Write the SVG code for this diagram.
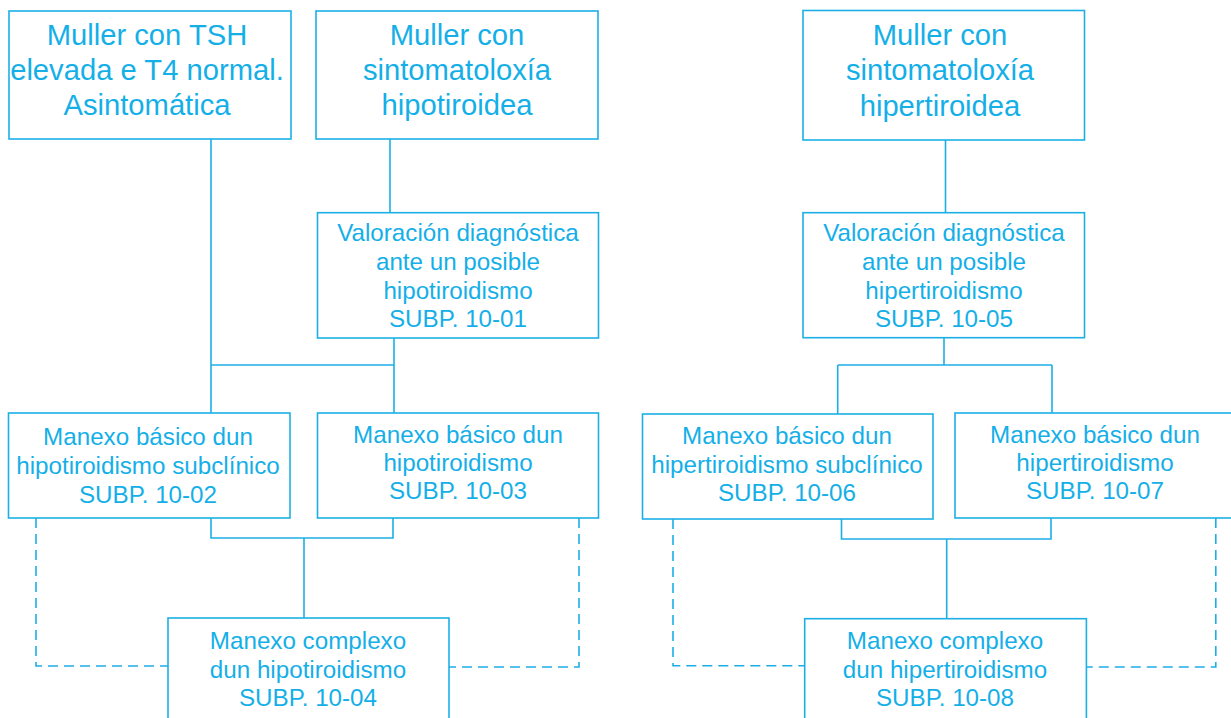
<svg xmlns="http://www.w3.org/2000/svg" width="1231" height="718" viewBox="0 0 1231 718">
<style>
.box{fill:#fff;stroke:#1cafe6;stroke-width:1.6}
.ln{fill:none;stroke:#1cafe6;stroke-width:1.6}
.dash{fill:none;stroke:#1cafe6;stroke-width:1.6;stroke-dasharray:10 6}
text{font-family:"Liberation Sans",Arial,sans-serif;fill:#15afe8;text-anchor:middle}
.big{font-size:29.2px}
.sm{font-size:24.2px}
</style>
<rect width="1231" height="718" fill="#fff"/>
<g id="connectors">
<path class="ln" d="M211 139V413M390 139V212.7M394 338V365M211 365H394M394 365V413"/>
<path class="ln" d="M211 518V538H393V518M304 538V618"/>
<path class="dash" d="M36 518V666H168M579 518V667H449"/>
<path class="ln" d="M945.5 140V212.7M944 338V365M837.7 365H1052M837.7 365V414M1052 365V413"/>
<path class="ln" d="M841.5 519V539H1051V518M946.7 539V618.7"/>
<path class="dash" d="M673 519V665.7H804.7M1215.8 518V667H1086.4"/>
</g>
<g id="n1"><rect class="box" x="9" y="11" width="282" height="128"/>
<text class="big" x="147" y="45">Muller con TSH</text><text class="big" x="147" y="80">elevada e T4 normal.</text><text class="big" x="147" y="115">Asintomática</text></g>
<g id="n2"><rect class="box" x="316" y="11" width="282" height="128"/>
<text class="big" x="457" y="45">Muller con</text><text class="big" x="457" y="80">sintomatoloxía</text><text class="big" x="457" y="115">hipotiroidea</text></g>
<g id="n3"><rect class="box" x="803" y="10.5" width="281.5" height="129.5"/>
<text class="big" x="940" y="45">Muller con</text><text class="big" x="940" y="80">sintomatoloxía</text><text class="big" x="940" y="116">hipertiroidea</text></g>
<g id="n4"><rect class="box" x="317.5" y="212.7" width="281" height="125.3"/>
<text class="sm" x="458" y="241">Valoración diagnóstica</text><text class="sm" x="458" y="270">ante un posible</text><text class="sm" x="458" y="299">hipotiroidismo</text><text class="sm" x="458" y="327">SUBP. 10-01</text></g>
<g id="n5"><rect class="box" x="803" y="212.7" width="281.5" height="125"/>
<text class="sm" x="944" y="241">Valoración diagnóstica</text><text class="sm" x="944" y="270">ante un posible</text><text class="sm" x="944" y="299">hipertiroidismo</text><text class="sm" x="944" y="327">SUBP. 10-05</text></g>
<g id="n6"><rect class="box" x="8.5" y="413" width="281.5" height="105"/>
<text class="sm" x="148" y="445">Manexo básico dun</text><text class="sm" x="148" y="474">hipotiroidismo subclínico</text><text class="sm" x="148" y="503">SUBP. 10-02</text></g>
<g id="n7"><rect class="box" x="317.5" y="413" width="281" height="105"/>
<text class="sm" x="458" y="443">Manexo básico dun</text><text class="sm" x="458" y="471">hipotiroidismo</text><text class="sm" x="458" y="499">SUBP. 10-03</text></g>
<g id="n8"><rect class="box" x="642.5" y="414" width="290.5" height="105"/>
<text class="sm" x="787" y="444">Manexo básico dun</text><text class="sm" x="787" y="473">hipertiroidismo subclínico</text><text class="sm" x="787" y="501">SUBP. 10-06</text></g>
<g id="n9"><rect class="box" x="955" y="413" width="281" height="105"/>
<text class="sm" x="1095" y="443">Manexo básico dun</text><text class="sm" x="1095" y="471">hipertiroidismo</text><text class="sm" x="1095" y="499">SUBP. 10-07</text></g>
<g id="n10"><rect class="box" x="168" y="618" width="281" height="120"/>
<text class="sm" x="308" y="649">Manexo complexo</text><text class="sm" x="308" y="678">dun hipotiroidismo</text><text class="sm" x="308" y="706">SUBP. 10-04</text></g>
<g id="n11"><rect class="box" x="804.7" y="618.7" width="281.7" height="120"/>
<text class="sm" x="945" y="649">Manexo complexo</text><text class="sm" x="945" y="678">dun hipertiroidismo</text><text class="sm" x="945" y="706">SUBP. 10-08</text></g>
</svg>
